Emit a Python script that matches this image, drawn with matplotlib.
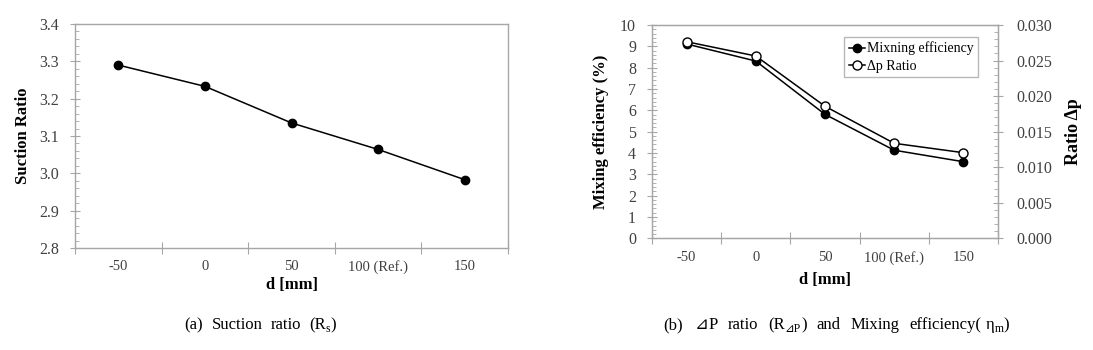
import matplotlib
matplotlib.use("Agg")
import matplotlib.pyplot as plt
from matplotlib.ticker import MultipleLocator, FixedLocator, FormatStrFormatter
import numpy as np

plt.rcParams['font.family'] = ['Liberation Serif', 'DejaVu Sans']

categories = ['-50', '0', '50', '100 (Ref.)', '150']
suction_ratio = [3.290, 3.233, 3.135, 3.064, 2.983]
mixing_eff = [9.11, 8.31, 5.81, 4.13, 3.59]
dp_ratio = [0.02765, 0.02564, 0.01857, 0.01336, 0.01204]

spine_c = '#a6a6a6'
tick_c = '#404040'
xfs = 10.5
yfs = 11.5
lfs = 12

fig = plt.figure(figsize=(10.93, 3.5), dpi=100)
W, H = 1093.0, 350.0

def style_axes(ax):
    for s in ax.spines.values():
        s.set_color(spine_c)
        s.set_linewidth(1.0)
    n = len(categories)
    x = np.arange(n)
    ax.set_xlim(-0.5, n - 0.5)
    ax.xaxis.set_major_locator(FixedLocator(np.arange(n + 1) - 0.5))
    ax.xaxis.set_minor_locator(FixedLocator(x))
    ax.set_xticklabels([''] * (n + 1))
    ax.set_xticklabels(categories, minor=True)
    ax.tick_params(axis='x', which='major', direction='inout', length=8, color=spine_c)
    ax.tick_params(axis='x', which='minor', length=0, pad=9, labelsize=xfs, labelcolor=tick_c)
    ax.tick_params(axis='y', which='major', direction='inout', length=7, color=spine_c,
                   labelsize=yfs, labelcolor=tick_c, pad=8)
    ax.tick_params(axis='y', which='minor', direction='in', length=3, color=spine_c)

x = np.arange(len(categories))

# Left chart
ax1 = fig.add_axes([75/W, 1-248/H, 433/W, 224/H])
style_axes(ax1)
ax1.plot(x, suction_ratio, color='black', lw=1.1, marker='o', ms=6, mfc='black', mec='black')
ax1.set_ylim(2.8, 3.4)
ax1.yaxis.set_major_locator(MultipleLocator(0.1))
ax1.yaxis.set_minor_locator(MultipleLocator(0.02))
ax1.yaxis.set_major_formatter(FormatStrFormatter('%.1f'))
ax1.set_ylabel('Suction Ratio', fontsize=lfs, fontweight='bold', labelpad=6)
ax1.set_xlabel('d [mm]', fontsize=lfs, fontweight='bold', labelpad=2)

# Right chart
ax2 = fig.add_axes([652/W, 1-238.3/H, 346/W, 213.3/H])
style_axes(ax2)
l1, = ax2.plot(x, mixing_eff, color='black', lw=1.1, marker='o', ms=6, mfc='black', mec='black',
               label='Mixning efficiency')
ax2.set_ylim(0, 10)
ax2.yaxis.set_major_locator(MultipleLocator(1))
ax2.yaxis.set_minor_locator(MultipleLocator(0.2))
ax2.set_ylabel('Mixing efficiency (%)', fontsize=lfs, fontweight='bold', labelpad=8)
ax2.set_xlabel('d [mm]', fontsize=lfs, fontweight='bold', labelpad=5)

ax3 = ax2.twinx()
for s in ax3.spines.values():
    s.set_color(spine_c)
l2, = ax3.plot(x, dp_ratio, color='black', lw=1.1, marker='o', ms=6.5, mfc='white', mec='black',
               label='Δp Ratio')
ax3.set_ylim(0, 0.030)
ax3.yaxis.set_major_locator(MultipleLocator(0.005))
ax3.yaxis.set_minor_locator(MultipleLocator(0.001))
ax3.yaxis.set_major_formatter(FormatStrFormatter('%.3f'))
ax3.tick_params(axis='y', which='major', direction='inout', length=7, color=spine_c,
                labelsize=yfs, labelcolor=tick_c, pad=10)
ax3.tick_params(axis='y', which='minor', direction='in', length=3, color=spine_c)
ax3.set_ylabel('Ratio Δp', fontsize=lfs + 1, fontweight='bold', labelpad=9, rotation=90)

leg = ax2.legend(handles=[l1, l2], loc='upper right', bbox_to_anchor=(0.943, 0.945),
                 fontsize=10, frameon=True, fancybox=False, handlelength=1.2,
                 handletextpad=0.1, borderpad=0.35, labelspacing=0.3, borderaxespad=0)
leg.get_frame().set_edgecolor(spine_c)
leg.get_frame().set_linewidth(1.0)

# Captions built from pieces (normal text + subscripts)
renderer = fig.canvas.get_renderer()

def rich_caption(xc, yc, parts, size=12):
    texts = []
    total = 0.0
    for p in parts:
        if p[0] == 'gap':
            texts.append(('gap', p[1]))
            total += p[1]
            continue
        s, kind = p
        fsz = size if kind == 'n' else size * 0.7
        t = fig.text(0, 0, s, fontsize=fsz, ha='left', va='baseline')
        w = t.get_window_extent(renderer).width
        texts.append((t, w, kind))
        total += w
    xpos = xc - total / 2.0
    for item in texts:
        if item[0] == 'gap':
            xpos += item[1]
            continue
        t, w, kind = item
        dy = -3.0 if kind == 's' else 0.0
        t.set_position((xpos / W, (yc + dy) / H))
        xpos += w

base_y = H - 329
rich_caption(260, base_y, [
    ('(a)', 'n'), ('gap', 9), ('Suction', 'n'), ('gap', 8), ('ratio', 'n'), ('gap', 8),
    ('(R', 'n'), ('s', 's'), (')', 'n')])
rich_caption(836, base_y, [
    ('(b)', 'n'), ('gap', 12), ('⊿', 'n'), ('P', 'n'), ('gap', 10), ('ratio', 'n'), ('gap', 10),
    ('(R', 'n'), ('⊿P', 's'), (')', 'n'), ('gap', 10), ('and', 'n'), ('gap', 10),
    ('Mixing', 'n'), ('gap', 10), ('efficiency(', 'n'), ('gap', 4), ('η', 'n'), ('m', 's'), (')', 'n')])

fig.savefig('out.png', dpi=100)
